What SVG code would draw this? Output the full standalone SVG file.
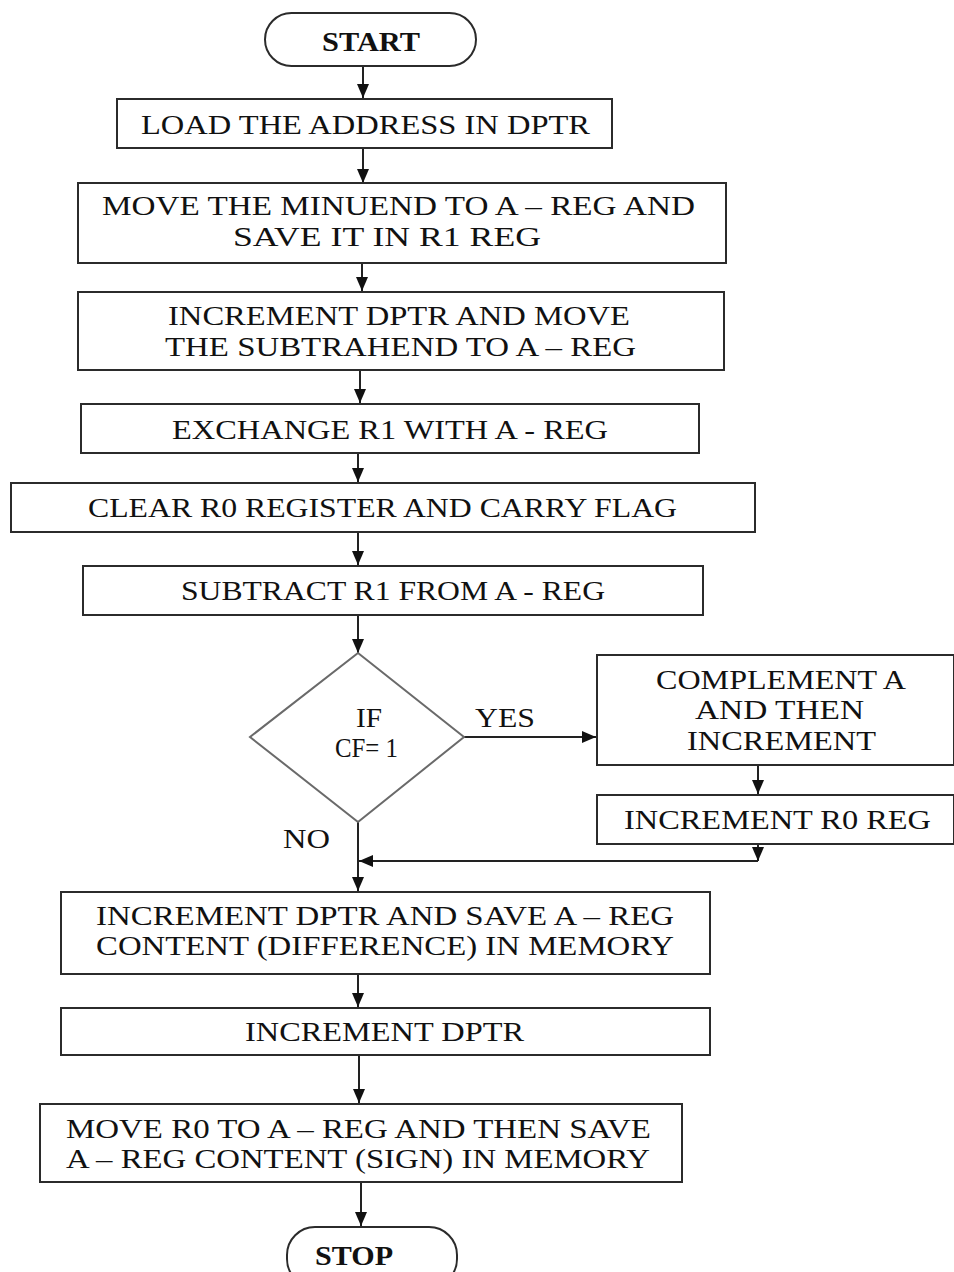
<svg xmlns="http://www.w3.org/2000/svg" width="954" height="1272" viewBox="0 0 954 1272">
  <style>
    .box { fill: #ffffff; stroke: #2b2b2b; stroke-width: 2; }
    .dec { fill: #ffffff; stroke: #6a6a6a; stroke-width: 2; }
    .lbl { font-family: "Liberation Serif", "Times New Roman", serif; font-size: 27px; fill: #111111; text-anchor: middle; }
    .term { font-weight: bold; }
    .edge { fill: none; stroke: #222222; stroke-width: 2; }
  </style>
  <defs>
    <marker id="arrow" markerUnits="userSpaceOnUse" markerWidth="14" markerHeight="14" viewBox="0 0 14 14" refX="14" refY="7" orient="auto">
      <path d="M0,1 L14,7 L0,13 Z" fill="#111111"/>
    </marker>
  </defs>

  <rect width="954" height="1272" fill="#ffffff"/>

  <!-- connectors -->
  <g id="connectors">
    <line class="edge" x1="363" y1="66" x2="363" y2="98" marker-end="url(#arrow)"/>
    <line class="edge" x1="363" y1="148" x2="363" y2="183" marker-end="url(#arrow)"/>
    <line class="edge" x1="362" y1="263" x2="362" y2="291" marker-end="url(#arrow)"/>
    <line class="edge" x1="360" y1="370" x2="360" y2="403" marker-end="url(#arrow)"/>
    <line class="edge" x1="358" y1="453" x2="358" y2="482" marker-end="url(#arrow)"/>
    <line class="edge" x1="358" y1="532" x2="358" y2="565" marker-end="url(#arrow)"/>
    <line class="edge" x1="358" y1="615" x2="358" y2="653" marker-end="url(#arrow)" stroke="#555555"/>
    <line class="edge" x1="464" y1="737" x2="596" y2="737" marker-end="url(#arrow)" stroke="#555555"/>
    <line class="edge" x1="758" y1="765" x2="758" y2="794" marker-end="url(#arrow)"/>
    <line class="edge" x1="758" y1="844" x2="758" y2="861" marker-end="url(#arrow)"/>
    <line class="edge" x1="758" y1="861" x2="359" y2="861" marker-end="url(#arrow)"/>
    <line class="edge" x1="358" y1="822" x2="358" y2="891" marker-end="url(#arrow)" stroke="#555555"/>
    <line class="edge" x1="358" y1="974" x2="358" y2="1007" marker-end="url(#arrow)"/>
    <line class="edge" x1="359" y1="1055" x2="359" y2="1103" marker-end="url(#arrow)"/>
    <line class="edge" x1="361" y1="1182" x2="361" y2="1226" marker-end="url(#arrow)"/>
  </g>

  <g id="start">
    <rect class="box" x="265" y="13" width="211" height="53" rx="26.5" ry="26.5"/>
    <text class="lbl term" x="371" y="51" textLength="98" lengthAdjust="spacingAndGlyphs">START</text>
  </g>

  <g id="load-dptr">
    <rect class="box" x="117" y="99" width="495" height="49"/>
    <text class="lbl" x="365.5" y="134" textLength="449" lengthAdjust="spacingAndGlyphs">LOAD THE ADDRESS IN DPTR</text>
  </g>

  <g id="move-minuend">
    <rect class="box" x="78" y="183" width="648" height="80"/>
    <text class="lbl" x="398.5" y="215" textLength="593" lengthAdjust="spacingAndGlyphs">MOVE THE MINUEND TO A – REG AND</text>
    <text class="lbl" x="387" y="246" textLength="308" lengthAdjust="spacingAndGlyphs">SAVE IT IN R1 REG</text>
  </g>

  <g id="move-subtrahend">
    <rect class="box" x="78" y="292" width="646" height="78"/>
    <text class="lbl" x="399" y="325" textLength="462" lengthAdjust="spacingAndGlyphs">INCREMENT DPTR AND MOVE</text>
    <text class="lbl" x="400.5" y="356" textLength="471" lengthAdjust="spacingAndGlyphs">THE SUBTRAHEND TO A – REG</text>
  </g>

  <g id="exchange">
    <rect class="box" x="81" y="404" width="618" height="49"/>
    <text class="lbl" x="390" y="439" textLength="436" lengthAdjust="spacingAndGlyphs">EXCHANGE R1 WITH A - REG</text>
  </g>

  <g id="clear-r0">
    <rect class="box" x="11" y="483" width="744" height="49"/>
    <text class="lbl" x="382.5" y="517" textLength="589" lengthAdjust="spacingAndGlyphs">CLEAR R0 REGISTER AND CARRY FLAG</text>
  </g>

  <g id="subtract">
    <rect class="box" x="83" y="566" width="620" height="49"/>
    <text class="lbl" x="393" y="600" textLength="424" lengthAdjust="spacingAndGlyphs">SUBTRACT R1 FROM A - REG</text>
  </g>

  <g id="check-carry">
    <polygon class="dec" points="358,653 464,737 358,822 250,737"/>
    <text class="lbl" x="369" y="727" textLength="26" lengthAdjust="spacingAndGlyphs">IF</text>
    <text class="lbl" x="366.5" y="757" textLength="63" lengthAdjust="spacingAndGlyphs">CF= 1</text>
    <text class="lbl" x="505" y="727" textLength="60" lengthAdjust="spacingAndGlyphs">YES</text>
    <text class="lbl" x="306.5" y="848" textLength="47" lengthAdjust="spacingAndGlyphs">NO</text>
  </g>

  <g id="complement">
    <rect class="box" x="597" y="655" width="357" height="110"/>
    <text class="lbl" x="781" y="689" textLength="250" lengthAdjust="spacingAndGlyphs">COMPLEMENT A</text>
    <text class="lbl" x="779.5" y="719" textLength="169" lengthAdjust="spacingAndGlyphs">AND THEN</text>
    <text class="lbl" x="781.5" y="750" textLength="189" lengthAdjust="spacingAndGlyphs">INCREMENT</text>
  </g>

  <g id="increment-r0">
    <rect class="box" x="597" y="795" width="357" height="49"/>
    <text class="lbl" x="777.5" y="829" textLength="307" lengthAdjust="spacingAndGlyphs">INCREMENT R0 REG</text>
  </g>

  <g id="save-difference">
    <rect class="box" x="61" y="892" width="649" height="82"/>
    <text class="lbl" x="385" y="925" textLength="578" lengthAdjust="spacingAndGlyphs">INCREMENT DPTR AND SAVE A – REG</text>
    <text class="lbl" x="385" y="955" textLength="578" lengthAdjust="spacingAndGlyphs">CONTENT (DIFFERENCE) IN MEMORY</text>
  </g>

  <g id="increment-dptr">
    <rect class="box" x="61" y="1008" width="649" height="47"/>
    <text class="lbl" x="384.5" y="1041" textLength="279" lengthAdjust="spacingAndGlyphs">INCREMENT DPTR</text>
  </g>

  <g id="save-sign">
    <rect class="box" x="40" y="1104" width="642" height="78"/>
    <text class="lbl" x="358.5" y="1138" textLength="585" lengthAdjust="spacingAndGlyphs">MOVE R0 TO A – REG AND THEN SAVE</text>
    <text class="lbl" x="358" y="1168" textLength="584" lengthAdjust="spacingAndGlyphs">A – REG CONTENT (SIGN) IN MEMORY</text>
  </g>

  <g id="stop">
    <rect class="box" x="287" y="1227" width="170" height="60" rx="28" ry="28"/>
    <text class="lbl term" x="354" y="1265" textLength="78" lengthAdjust="spacingAndGlyphs">STOP</text>
  </g>
</svg>
